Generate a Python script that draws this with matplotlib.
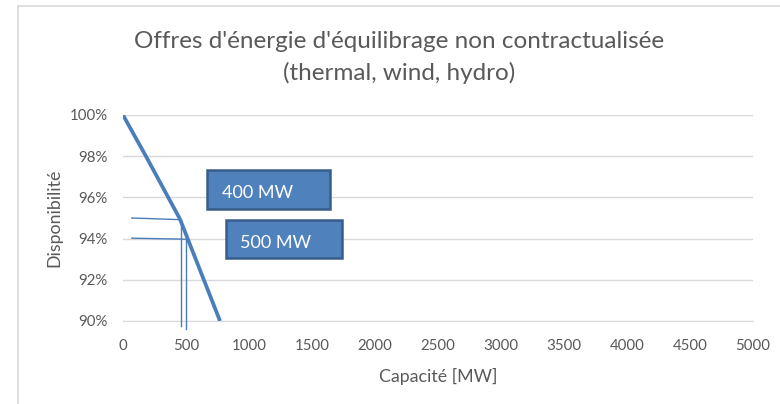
import matplotlib
matplotlib.use("Agg")
import matplotlib.pyplot as plt
from matplotlib.patches import Rectangle
from matplotlib.lines import Line2D
from matplotlib.ticker import FuncFormatter

plt.rcParams['font.family'] = ['Lato', 'DejaVu Sans']

# Data
capacity = [0, 182, 452, 770]
availability = [100, 98, 94.95, 90]

x_ticks = [0, 500, 1000, 1500, 2000, 2500, 3000, 3500, 4000, 4500, 5000]
y_ticks = [90, 92, 94, 96, 98, 100]

# Marker lines for 400 MW and 500 MW
h1_x = [70, 455]; h1_y = [95.0, 94.92]
v1_x = [458, 458]; v1_y = [94.92, 89.75]
h2_x = [70, 505]; h2_y = [94.02, 93.97]
v2_x = [503, 503]; v2_y = [93.97, 89.6]

labels = ["400 MW", "500 MW"]
box_x = [667, 817]
box_w = [976, 920]
box_y = [95.44, 93.06]
box_h = [1.89, 1.84]
text_x = [786, 929]
text_y = [96.2, 93.8]

title1 = "Offres d'énergie d'équilibrage non contractualisée"
title2 = "(thermal, wind, hydro)"

grey = "#595959"
blue = "#4A7EBB"

fig = plt.figure(figsize=(7.8, 4.04), dpi=100)
ax = fig.add_axes([123/780, 1-321/404, 630/780, 206/404])

ax.plot(capacity, availability, color=blue, lw=2.7, solid_capstyle='butt',
        solid_joinstyle='round', zorder=4)
for xs, ys in [(h1_x, h1_y), (v1_x, v1_y), (h2_x, h2_y), (v2_x, v2_y)]:
    ax.plot(xs, ys, color=blue, lw=1.0, clip_on=False, zorder=4)

for i in range(2):
    ax.add_patch(Rectangle((box_x[i], box_y[i]), box_w[i], box_h[i],
                           facecolor="#4F81BD", edgecolor="#385D8A", lw=1.8,
                           clip_on=False, zorder=5))
    ax.text(text_x[i], text_y[i], labels[i], color="white", fontsize=13,
            va='center', ha='left', zorder=6)

ax.set_xlim(0, 5000)
ax.set_ylim(90, 100)
ax.set_xticks(x_ticks)
ax.set_yticks(y_ticks)
ax.yaxis.set_major_formatter(FuncFormatter(lambda v, p: f"{int(round(v))}%"))
ax.grid(axis='y', color="#D9D9D9", lw=1)
ax.set_axisbelow(True)
for s in ['top', 'right', 'left']:
    ax.spines[s].set_visible(False)
ax.spines['bottom'].set_color("#D9D9D9")
ax.tick_params(length=0, labelsize=10.8, colors=grey)
ax.tick_params(axis='x', pad=13)
ax.tick_params(axis='y', pad=11)

ax.set_xlabel("Capacité [MW]", fontsize=12.8, color=grey, labelpad=11)
ax.set_ylabel("Disponibilité", fontsize=12.8, color=grey, labelpad=5)

fig.text(399/780, 1-42/404, title1, ha='center', va='center', fontsize=17.5, color=grey)
fig.text(399/780, 1-73/404, title2, ha='center', va='center', fontsize=17.5, color=grey)

# outer chart border
fig.add_artist(Line2D([17.5/780, 17.5/780], [0, 1-6/404], color="#D9D9D9", lw=1.2))
fig.add_artist(Line2D([17.5/780, 1], [1-6/404, 1-6/404], color="#D9D9D9", lw=1.2))

fig.savefig("out.png", dpi=100)
